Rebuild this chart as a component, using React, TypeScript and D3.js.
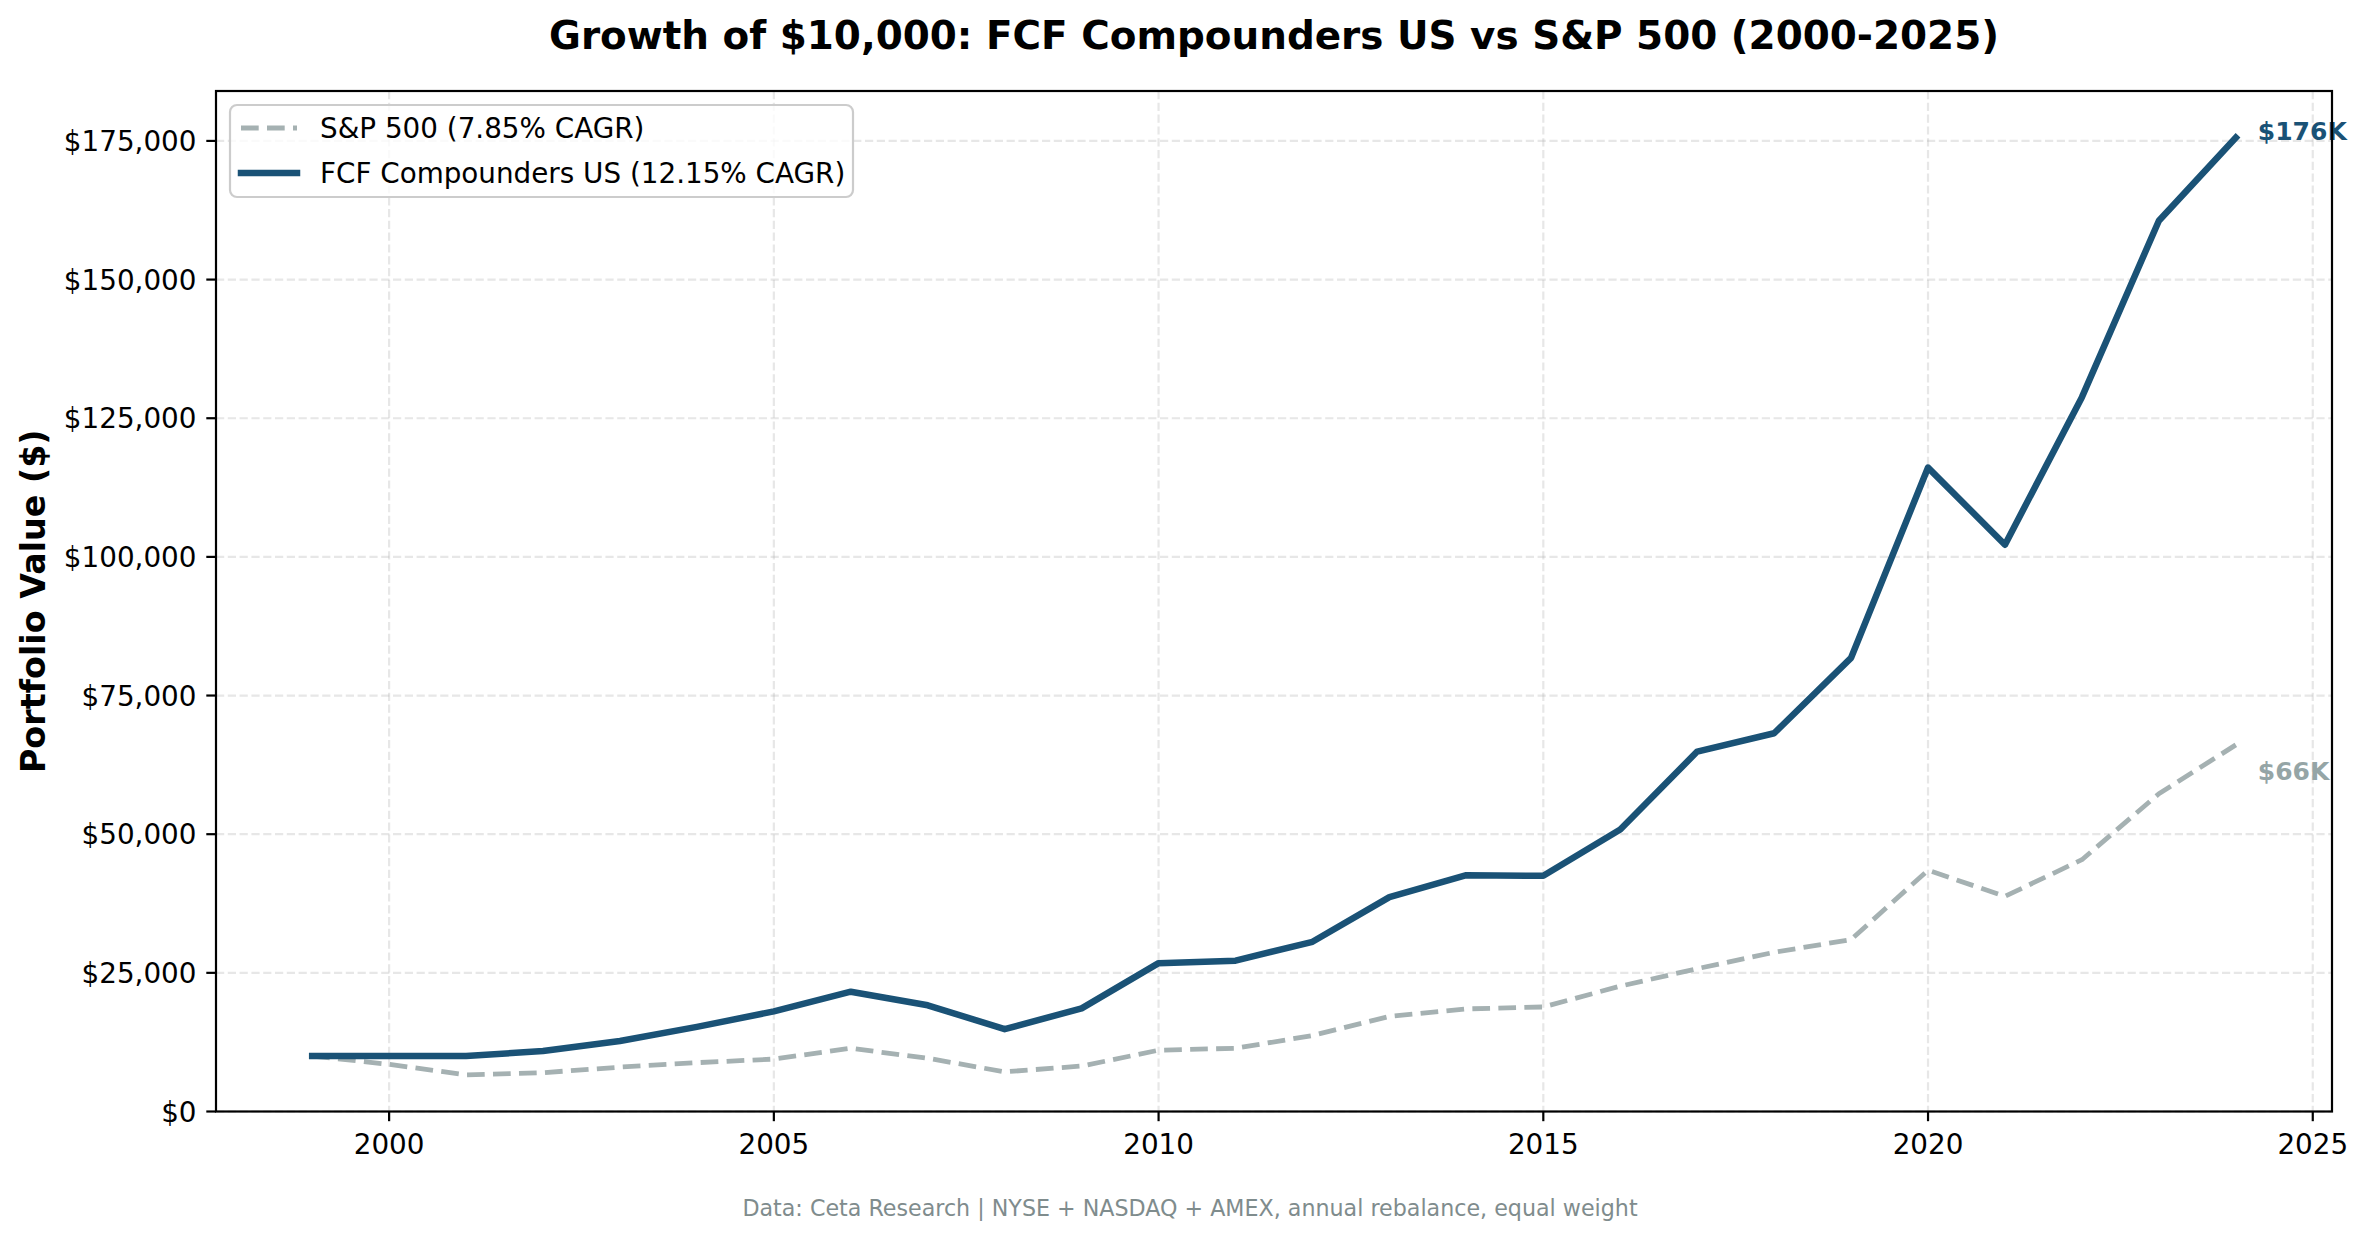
import React from "react";
import * as d3 from "d3";

const years = [1999,2000,2001,2002,2003,2004,2005,2006,2007,2008,2009,2010,2011,2012,2013,2014,2015,2016,2017,2018,2019,2020,2021,2022,2023,2024];
const spValues = [10000,8500,6600,7000,8000,8800,9450,11400,9600,7150,8200,11050,11400,13700,17150,18500,18850,22600,25750,28700,31000,43500,38800,45400,57300,66100];
const fcfValues = [10000,10000,10000,10900,12700,15250,18050,21600,19150,14850,18600,26750,27200,30600,38650,42600,42500,50850,64900,68200,81800,116100,102200,128800,160600,175600];
const xTicks = [2000,2005,2010,2015,2020,2025];
const yTicks = [0,25000,50000,75000,100000,125000,150000,175000];
const seriesNames = ["S&P 500 (7.85% CAGR)", "FCF Compounders US (12.15% CAGR)"];
const endLabels = ["$66K", "$176K"];
const titleText = "Growth of $10,000: FCF Compounders US vs S&P 500 (2000-2025)";
const yLabelText = "Portfolio Value ($)";
const footerText = "Data: Ceta Research | NYSE + NASDAQ + AMEX, annual rebalance, equal weight";

const W = 2369, H = 1239;
const L = 216, R = 2332, T = 91, B = 1111.5;
const FCF = "#1a5276";
const SP = "#a5b1b2";
const SPTXT = "#95a5a6";
const FONT = "DejaVu Sans, sans-serif";
const SP_W = 4.8;
const FCF_W = 6.5;
const SP_DASH = "17.7 8.3";

export default function App() {
  const x = d3.scaleLinear().domain([1997.75, 2025.25]).range([L, R]);
  const y = d3.scaleLinear().domain([0, 184000]).range([B, T]);
  const line = d3.line<[number, number]>().x(d => x(d[0])).y(d => y(d[1]));
  const spPts = years.map((yr, i) => [yr, spValues[i]] as [number, number]);
  const fcfPts = years.map((yr, i) => [yr, fcfValues[i]] as [number, number]);
  const fmt = (v: number) => "$" + d3.format(",")(v);
  const lastYr = years[years.length - 1];
  const tickFs = 27.8;

  return (
    <svg width={W} height={H} style={{ position: "absolute", left: 0, top: 0, background: "#fff" }} fontFamily={FONT}>
      <rect x={0} y={0} width={W} height={H} fill="#fff" />
      {/* grid */}
      <g stroke="#b0b0b0" strokeOpacity={0.3} strokeWidth={2.2} strokeDasharray="8.2 3.6">
        {xTicks.map(t => <line key={"gx" + t} x1={x(t)} x2={x(t)} y1={T} y2={B} />)}
        {yTicks.map(t => <line key={"gy" + t} x1={L} x2={R} y1={y(t)} y2={y(t)} />)}
      </g>
      {/* lines */}
      <path d={line(spPts) || ""} fill="none" stroke={SP} strokeWidth={SP_W} strokeDasharray={SP_DASH} strokeLinejoin="round" />
      <path d={line(fcfPts) || ""} fill="none" stroke={FCF} strokeWidth={FCF_W} strokeLinejoin="round" strokeLinecap="square" />
      {/* end labels */}
      <text x={x(lastYr) + 22} y={y(fcfValues[fcfValues.length - 1]) - 6} dominantBaseline="central" fontSize={25} fontWeight="bold" fill={FCF}>{endLabels[1]}</text>
      <text x={x(lastYr) + 22} y={y(spValues[spValues.length - 1]) + 27} dominantBaseline="central" fontSize={25} fontWeight="bold" fill={SPTXT}>{endLabels[0]}</text>
      {/* spines */}
      <rect x={L} y={T} width={R - L} height={B - T} fill="none" stroke="#000" strokeWidth={2.2} />
      {/* ticks */}
      <g stroke="#000" strokeWidth={2.2}>
        {xTicks.map(t => <line key={"tx" + t} x1={x(t)} x2={x(t)} y1={B} y2={B + 9.7} />)}
        {yTicks.map(t => <line key={"ty" + t} x1={L - 9.7} x2={L} y1={y(t)} y2={y(t)} />)}
      </g>
      {xTicks.map(t => (
        <text key={"lx" + t} x={x(t)} y={B + 42.5} textAnchor="middle" fontSize={tickFs} fill="#000">{t}</text>
      ))}
      {yTicks.map(t => (
        <text key={"ly" + t} x={L - 19.5} y={y(t) + 10.1} textAnchor="end" fontSize={tickFs} fill="#000">{fmt(t)}</text>
      ))}
      {/* title */}
      <text x={(L + R) / 2} y={49} textAnchor="middle" fontSize={38.9} fontWeight="bold" fill="#000">{titleText}</text>
      {/* y label */}
      <text transform={`translate(33, ${(T + B) / 2}) rotate(-90)`} textAnchor="middle" dominantBaseline="central" fontSize={33.3} fontWeight="bold" fill="#000">{yLabelText}</text>
      {/* legend */}
      <g>
        <rect x={230} y={105} width={623} height={92} rx={7} ry={7} fill="#fff" fillOpacity={0.8} stroke="#cccccc" strokeWidth={2.2} />
        <line x1={241} x2={297} y1={128} y2={128} stroke={SP} strokeWidth={SP_W} strokeDasharray={SP_DASH} />
        <line x1={241} x2={297} y1={173} y2={173} stroke={FCF} strokeWidth={FCF_W} strokeLinecap="square" />
        <text x={320} y={128} dominantBaseline="central" fontSize={tickFs} fill="#000">{seriesNames[0]}</text>
        <text x={320} y={173} dominantBaseline="central" fontSize={tickFs} fill="#000">{seriesNames[1]}</text>
      </g>
      {/* footer */}
      <text x={1190} y={1208} textAnchor="middle" dominantBaseline="central" fontSize={22.2} fill="#7f8c8d">{footerText}</text>
    </svg>
  );
}
